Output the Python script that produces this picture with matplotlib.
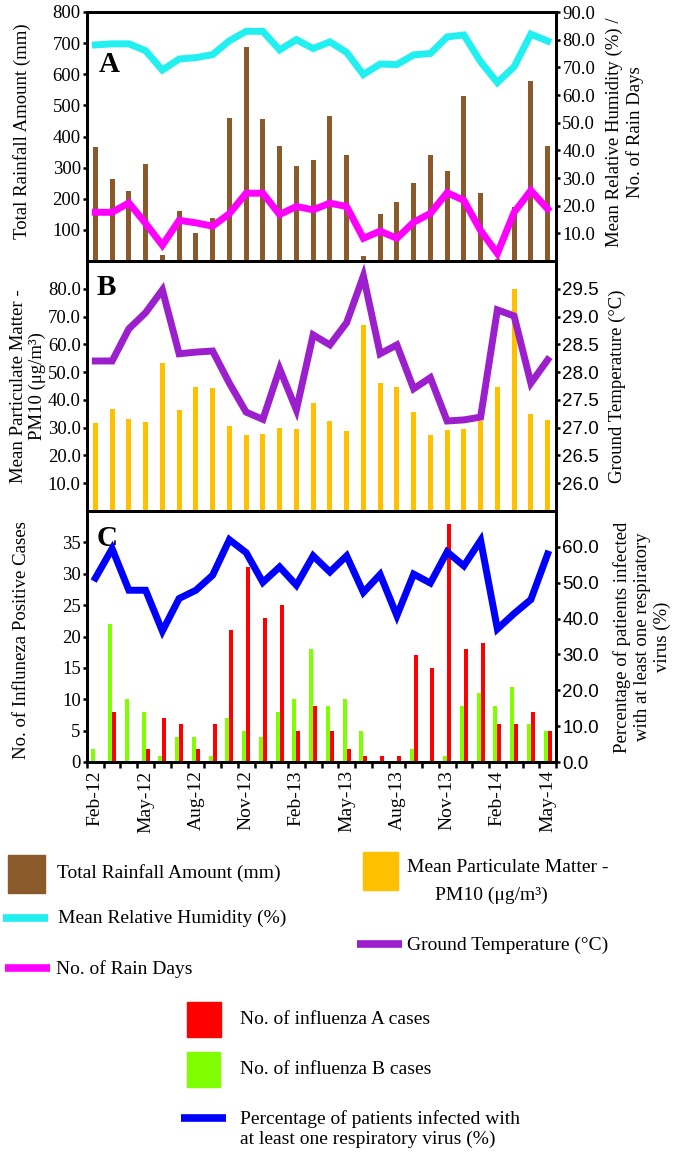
import matplotlib.pyplot as plt
from matplotlib.patches import Rectangle
from matplotlib.lines import Line2D

plt.rcParams['font.family'] = ['Liberation Serif', 'DejaVu Serif']

months = ['Feb-12', 'Mar-12', 'Apr-12', 'May-12', 'Jun-12', 'Jul-12', 'Aug-12', 'Sep-12',
          'Oct-12', 'Nov-12', 'Dec-12', 'Jan-13', 'Feb-13', 'Mar-13', 'Apr-13', 'May-13',
          'Jun-13', 'Jul-13', 'Aug-13', 'Sep-13', 'Oct-13', 'Nov-13', 'Dec-13', 'Jan-14',
          'Feb-14', 'Mar-14', 'Apr-14', 'May-14']

rainfall = [365, 264, 225, 313, 19, 162, 90, 139, 460, 686, 457, 371, 306, 323,
            465, 339, 16, 150, 190, 249, 342, 290, 529, 220, 5, 174, 577, 371]
humidity = [78.1, 78.5, 78.5, 76.0, 69.0, 73.0, 73.5, 74.6, 79.6, 83.0, 83.0, 76.3,
            80.0, 76.8, 79.2, 75.4, 67.4, 71.2, 71.0, 74.5, 75.0, 81.0, 81.7, 72.0,
            64.5, 70.2, 82.0, 79.5]
rain_days = [17.6, 17.6, 21.0, 13.6, 5.7, 14.7, 13.8, 12.6, 17.1, 24.5, 24.5, 16.8,
             19.7, 18.5, 20.9, 19.7, 8.2, 10.8, 8.2, 14.0, 17.2, 24.7, 21.9, 11.0,
             2.7, 17.6, 25.5, 18.8]

pm10 = [31.8, 36.8, 33.2, 32.1, 53.4, 36.5, 44.8, 44.4, 30.7, 27.4, 27.8, 30.0,
        29.6, 39.0, 32.5, 28.9, 67.1, 46.2, 44.8, 35.7, 27.4, 29.2, 29.6, 32.3,
        44.8, 80.1, 35.0, 32.9]
ground_temp = [28.20, 28.20, 28.78, 29.07, 29.48, 28.33, 28.36, 28.38, 27.80, 27.28,
               27.15, 28.06, 27.32, 28.67, 28.49, 28.89, 29.73, 28.33, 28.49, 27.70,
               27.90, 27.12, 27.14, 27.19, 29.12, 29.01, 27.80, 28.22]

flu_a = [0, 8, 0, 2, 7, 6, 2, 6, 21, 31, 23, 25, 5, 9, 5, 2, 1, 1, 1, 17, 15, 38,
         18, 19, 6, 6, 8, 5]
flu_b = [2, 22, 10, 8, 1, 4, 4, 1, 7, 5, 4, 8, 10, 18, 9, 10, 5, 0, 0, 2, 0, 1,
         9, 11, 9, 12, 6, 5]
pct_virus = [51.3, 59.5, 47.9, 47.9, 36.5, 45.6, 47.9, 52.1, 62.0, 58.4, 50.1, 54.4,
             49.3, 57.5, 53.0, 57.5, 47.3, 52.3, 40.8, 52.4, 49.9, 58.6, 54.7, 61.8,
             37.1, 41.4, 45.3, 58.0]

W, H = 679, 1154
x = list(range(len(months)))


def fx(px):
    return px / W


def fy(py):
    return 1 - py / H


fig = plt.figure(figsize=(W / 100, H / 100), dpi=100)

left, right = 87, 556
panels = [(12, 261), (261, 511), (511, 762)]
axes = []
for top, bottom in panels:
    ax = fig.add_axes([fx(left), fy(bottom), fx(right - left), (bottom - top) / H])
    axes.append(ax)

tick_kw = dict(direction='out', length=3, width=1.8, pad=1.5, labelsize=13.5)


def style(ax, ax2):
    for a in (ax, ax2):
        for s in a.spines.values():
            s.set_linewidth(2.0)
        a.tick_params(axis='y', **tick_kw)
    ax.set_xlim(-0.5, len(months) - 0.5)
    ax.tick_params(axis='x', bottom=False, labelbottom=False)


# Panel A
axA = axes[0]
axA2 = axA.twinx()
axA.bar(x, rainfall, width=0.3, color='#8b5a2b')
axA2.plot(x, humidity, color='#22f0f0', lw=5, solid_joinstyle='miter')
axA2.plot(x, rain_days, color='#ff00ff', lw=5, solid_joinstyle='miter')
axA.set_ylim(0, 800)
axA.set_yticks(range(100, 801, 100))
axA2.set_ylim(0, 90)
axA2.set_yticks(range(10, 91, 10))
axA2.set_yticklabels(['%.1f' % v for v in range(10, 91, 10)])
style(axA, axA2)
axA.text(0.025, 0.76, 'A', transform=axA.transAxes, fontsize=21, fontweight='bold')

# Panel B
axB = axes[1]
axB2 = axB.twinx()
axB.bar(x, pm10, width=0.3, color='#ffc000')
axB2.plot(x, ground_temp, color='#9b1fcc', lw=5, solid_joinstyle='miter')
axB.set_ylim(0, 90)
axB.set_yticks(range(10, 81, 10))
axB.set_yticklabels(['%.1f' % v for v in range(10, 81, 10)])
axB2.set_ylim(25.5, 30.0)
bt = [26.0 + 0.5 * i for i in range(8)]
axB2.set_yticks(bt)
axB2.set_yticklabels(['%.1f' % v for v in bt], family='Liberation Sans')
style(axB, axB2)
axB.text(0.02, 0.865, 'B', transform=axB.transAxes, fontsize=21, fontweight='bold')

# Panel C
axC = axes[2]
axC2 = axC.twinx()
xb = [i - 0.12 for i in x]
xa = [i + 0.12 for i in x]
axC.bar(xb, flu_b, width=0.24, color='#80ff00')
axC.bar(xa, flu_a, width=0.24, color='#ff0000')
axC2.plot(x, pct_virus, color='#0000ff', lw=5, solid_joinstyle='miter')
axC.set_ylim(0, 40)
axC.set_yticks(range(0, 36, 5))
axC2.set_ylim(0, 70)
axC2.set_yticks(range(0, 61, 10))
axC2.set_yticklabels(['%.1f' % v for v in range(0, 61, 10)], family='Liberation Sans')
style(axC, axC2)
axC.text(0.02, 0.86, 'C', transform=axC.transAxes, fontsize=21, fontweight='bold')
axC.set_xticks([i - 0.5 for i in x] + [len(x) - 0.5], minor=True)
axC.set_xticks(x[::3])
axC.set_xticklabels(months[::3], rotation=90, fontsize=14)
axC.tick_params(axis='x', which='minor', bottom=True, direction='out', length=4, width=1.8)
axC.tick_params(axis='x', which='major', bottom=True, labelbottom=True, length=0, pad=6)

# axis titles
lab = dict(rotation=90, ha='center', va='center', fontsize=13.5, multialignment='center')
fig.text(fx(22), fy(131), 'Total Rainfall Amount (mm)', **lab)
fig.text(fx(28), fy(386), 'Mean Particulate Matter -\nPM10 (\u03bcg/m\u00b3)', linespacing=1.15, **lab)
fig.text(fx(22), fy(640), 'No. of Influneza Positive Cases', **lab)
fig.text(fx(625), fy(132), 'Mean Relative Humidity (%) /\nNo. of Rain Days', **lab)
fig.text(fx(617), fy(386), 'Ground Temperature (\u00b0C)', **lab)
fig.text(fx(642), fy(637), 'Percentage of patients infected\nwith at least one respiratory\nvirus (%)', **lab)

# legend
def box(x0, y0, x1, y1, color):
    fig.add_artist(Rectangle((fx(x0), fy(y1)), fx(x1 - x0), (y1 - y0) / H,
                             transform=fig.transFigure, color=color))


def seg(x0, x1, yy, color):
    fig.add_artist(Line2D([fx(x0), fx(x1)], [fy(yy), fy(yy)], transform=fig.transFigure,
                          color=color, lw=5.5, solid_capstyle='butt'))


leg = dict(fontsize=14, va='center', ha='left')
box(8, 855, 45, 893, '#8b5a2b')
fig.text(fx(57), fy(873), 'Total Rainfall Amount (mm)', **leg)
box(363, 852, 398, 890, '#ffc000')
fig.text(fx(407), fy(868), 'Mean Particulate Matter -', **leg)
fig.text(fx(491), fy(895), 'PM10 (\u03bcg/m\u00b3)', fontsize=14, va='center', ha='center')
seg(3, 48, 918, '#22f0f0')
fig.text(fx(58), fy(918), 'Mean Relative Humidity (%)', **leg)
seg(357, 402, 944, '#9b1fcc')
fig.text(fx(407), fy(945), 'Ground Temperature (\u00b0C)', **leg)
seg(5, 50, 968, '#ff00ff')
fig.text(fx(56), fy(969), 'No. of Rain Days', **leg)
box(187, 1002, 221, 1037, '#ff0000')
fig.text(fx(240), fy(1019), 'No. of influenza A cases', **leg)
box(187, 1052, 220, 1087, '#80ff00')
fig.text(fx(240), fy(1069), 'No. of influenza B cases', **leg)
seg(181, 226, 1118, '#0000ff')
fig.text(fx(240), fy(1129), 'Percentage of patients infected with\nat least one respiratory virus (%)',
         fontsize=14, va='center', ha='left')

fig.savefig('out.png', dpi=100)
